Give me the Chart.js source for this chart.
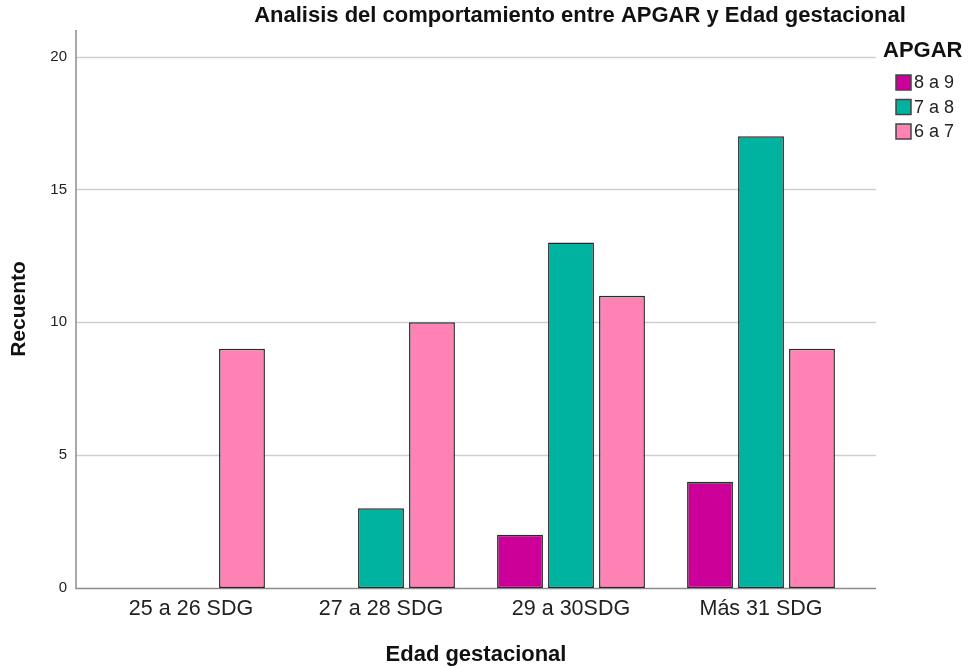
<!DOCTYPE html>
<html>
<head>
<meta charset="utf-8">
<script src="https://cdn.jsdelivr.net/npm/chart.js@4"></script>
<style>
  html, body { margin: 0; padding: 0; background: #fff; }
  #wrap { width: 969px; height: 669px; position: relative; }
</style>
</head>
<body>
<div id="wrap"><canvas id="canvas" width="969" height="669"></canvas></div>
<script>
// Data
var categories = ["25 a 26 SDG", "27 a 28 SDG", "29 a 30SDG", "Más 31 SDG"];
var seriesNames = ["8 a 9", "7 a 8", "6 a 7"];
var apgar89 = [0, 0, 2, 4];
var apgar78 = [0, 3, 13, 17];
var apgar67 = [9, 10, 11, 9];
var yTicks = [0, 5, 10, 15, 20];

var colors = ["#cc0099", "#00b3a0", "#ff82b4"];
var FONT = "'Liberation Sans', Arial, sans-serif";

var datasets = [apgar89, apgar78, apgar67].map(function(vals, i) {
    return {
        label: seriesNames[i],
        data: vals,
        backgroundColor: colors[i],
        borderColor: "#2a2a2a",
        borderWidth: 1.5,
        borderSkipped: false,
        categoryPercentage: 0.805,
        barPercentage: 0.9
    };
});

// axes, grid lines, title and legend drawn by hand (SPSS style)
var decor = {
    id: "decor",
    beforeDatasetsDraw: function(chart) {
        var ctx = chart.ctx, a = chart.chartArea, y = chart.scales.y;
        var left = a.left - 20, right = a.right + 20;
        ctx.save();
        ctx.strokeStyle = "#cfcfcf";
        ctx.lineWidth = 1.5;
        yTicks.forEach(function(t) {
            if (t === 0) return;
            var py = Math.round(y.getPixelForValue(t)) + 0.5;
            ctx.beginPath(); ctx.moveTo(left, py); ctx.lineTo(right, py); ctx.stroke();
        });
        ctx.strokeStyle = "#8c8c8c";
        ctx.lineWidth = 1.5;
        var by = Math.round(y.getPixelForValue(0)) + 0.5;
        ctx.beginPath(); ctx.moveTo(left, a.top); ctx.lineTo(left, by); ctx.lineTo(right, by); ctx.stroke();
        ctx.restore();
    },
    afterDraw: function(chart) {
        var ctx = chart.ctx;
        ctx.save();
        ctx.fillStyle = "#111";
        ctx.font = "bold 22px " + FONT;
        ctx.textAlign = "center";
        ctx.textBaseline = "middle";
        ctx.fillText("Analisis del comportamiento entre APGAR y Edad gestacional", 580, 16);

        ctx.textAlign = "left";
        ctx.fillText("APGAR", 883, 51);
        ctx.font = "18px " + FONT;
        chart.data.datasets.forEach(function(ds, i) {
            var ty = 75 + i * 24.5;
            ctx.fillStyle = ds.backgroundColor;
            ctx.fillRect(896, ty, 15, 15);
            ctx.strokeStyle = "#444";
            ctx.lineWidth = 1.5;
            ctx.strokeRect(896, ty, 15, 15);
            ctx.fillStyle = "#222";
            ctx.fillText(ds.label, 914, ty + 8.5);
        });
        ctx.restore();
    }
};

new Chart(document.getElementById("canvas"), {
    type: "bar",
    data: { labels: categories, datasets: datasets },
    options: {
        responsive: false,
        animation: false,
        layout: { padding: { top: 30, right: 113, left: 0, bottom: 0 } },
        plugins: { legend: { display: false }, tooltip: { enabled: false } },
        scales: {
            x: {
                offset: true,
                grid: { display: false, drawTicks: false },
                border: { display: false },
                ticks: { color: "#222", font: { family: FONT, size: 21.5 }, padding: 8 },
                title: { display: true, text: "Edad gestacional", color: "#111",
                         font: { family: FONT, size: 22, weight: "bold" }, padding: { top: 10, bottom: 1 } },
                afterFit: function(s) { s.height = 81; s.paddingLeft = 0; s.paddingRight = 0; }
            },
            y: {
                min: 0, max: 21,
                grid: { display: false, drawTicks: false },
                border: { display: false },
                ticks: { stepSize: 5, color: "#222", font: { family: FONT, size: 15 }, padding: 29 },
                afterBuildTicks: function(s) {
                    s.ticks = yTicks.map(function(v) { return { value: v }; });
                },
                title: { display: true, text: "Recuento", color: "#111",
                         font: { family: FONT, size: 21, weight: "bold" }, padding: { top: 7, bottom: 0 } },
                afterFit: function(s) { s.width = 96; s.paddingTop = 0; s.paddingBottom = 0; }
            }
        }
    },
    plugins: [decor]
});
</script>
</body>
</html>
